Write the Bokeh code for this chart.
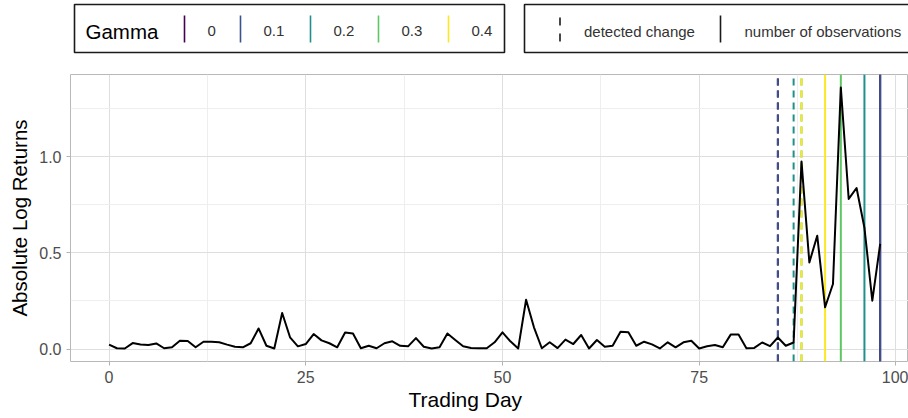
from bokeh.plotting import figure
from bokeh.models import Range1d, FixedTicker, NumeralTickFormatter, Title
from bokeh.layouts import column
from bokeh.embed import file_html
from bokeh.resources import INLINE
from bokeh.core.properties import value

# ---- data -------------------------------------------------------------
days = list(range(99))
abs_log_returns = [
    0.023, 0.004, 0.003, 0.031, 0.023, 0.021, 0.029, 0.004, 0.009, 0.043,
    0.042, 0.009, 0.038, 0.038, 0.035, 0.023, 0.012, 0.009, 0.030, 0.107,
    0.017, 0.003, 0.187, 0.061, 0.014, 0.026, 0.078, 0.045, 0.030, 0.009,
    0.086, 0.081, 0.004, 0.017, 0.004, 0.030, 0.040, 0.017, 0.014, 0.057,
    0.012, 0.003, 0.009, 0.081, 0.047, 0.014, 0.005, 0.004, 0.004, 0.035,
    0.087, 0.040, 0.003, 0.256, 0.113, 0.004, 0.035, 0.005, 0.049, 0.026,
    0.073, 0.003, 0.047, 0.012, 0.017, 0.090, 0.087, 0.017, 0.038, 0.024,
    0.003, 0.035, 0.009, 0.035, 0.043, 0.003, 0.014, 0.021, 0.009, 0.075,
    0.075, 0.004, 0.006, 0.034, 0.015, 0.060, 0.017, 0.034, 0.975, 0.450,
    0.589, 0.217, 0.338, 1.359, 0.780, 0.837, 0.630, 0.251, 0.546,
]
gamma_labels = ["0", "0.1", "0.2", "0.3", "0.4"]
gamma_colors = ["#440154", "#3B528B", "#21908C", "#5DC863", "#FDE725"]
detected_change = [85, 85, 87, 88, 88]
n_observations = [98, 98, 96, 93, 91]
x_ticks = [0, 25, 50, 75, 100]
x_minor_ticks = [12.5, 37.5, 62.5, 87.5]
y_ticks = [0.0, 0.5, 1.0]
y_minor_ticks = [0.25, 0.75, 1.25]
line_type_labels = ["detected change", "number of observations"]

FONT = "Liberation Sans"
LEFT = 70          # width of the left margin (y axis)
WIDTH = 908

# ---- ranges (5% padding around the data) ------------------------------
y_min, y_max = min(abs_log_returns), max(abs_log_returns)
y_pad = 0.05 * (y_max - y_min)
y_lo, y_hi = y_min - y_pad, y_max + y_pad
x_lo = -0.05 * (max(days) - min(days))
x_hi = 101.6

# ---- main panel -------------------------------------------------------
p = figure(
    width=WIDTH, height=362,
    x_range=Range1d(x_lo, x_hi), y_range=Range1d(y_lo, y_hi),
    min_border_left=LEFT, min_border_right=0, min_border_top=18, min_border_bottom=57,
    toolbar_location=None, output_backend="svg",
)
p.background_fill_color = "white"
p.border_fill_color = "white"
p.outline_line_color = "#B8B8B8"
p.outline_line_width = 1

p.xaxis.ticker = FixedTicker(ticks=x_ticks, minor_ticks=x_minor_ticks)
p.yaxis.ticker = FixedTicker(ticks=y_ticks, minor_ticks=y_minor_ticks)
p.yaxis.formatter = NumeralTickFormatter(format="0.0")

for grid in (p.xgrid, p.ygrid):
    grid.grid_line_color = "#DEDEDE"
    grid.grid_line_width = 1
    grid.minor_grid_line_color = "#EEEEEE"
    grid.minor_grid_line_width = 1

for ax in (p.xaxis, p.yaxis):
    ax.axis_line_color = None
    ax.major_tick_line_color = "#B3B3B3"
    ax.major_tick_out = 4
    ax.major_tick_in = 0
    ax.minor_tick_line_color = None
    ax.major_label_text_font = FONT
    ax.major_label_text_font_size = "16px"
    ax.major_label_text_color = "#4D4D4D"
    ax.axis_label_text_font = FONT
    ax.axis_label_text_font_size = "20.5px"
    ax.axis_label_text_font_style = "normal"
    ax.axis_label_text_color = "black"

p.yaxis.axis_label = "Absolute Log Returns"
p.xaxis.major_label_standoff = 5
p.yaxis.major_label_standoff = 5
p.yaxis.axis_label_standoff = 5

# x axis title, set left of the panel centre
p.add_layout(Title(text="Trading Day", align="left", offset=338, standoff=0,
                   text_font=FONT, text_font_size="21px", text_font_style="normal",
                   text_color="black"), "below")

# change-point markers, one per gamma (dashed: detected change, solid: observations)
n = len(gamma_colors)
p.segment(x0=detected_change, y0=[y_lo] * n, x1=detected_change, y1=[y_hi] * n,
          line_color=gamma_colors, line_width=2, line_dash="7 5")
p.segment(x0=n_observations, y0=[y_lo] * n, x1=n_observations, y1=[y_hi] * n,
          line_color=gamma_colors, line_width=2)

p.line(days, abs_log_returns, line_color="black", line_width=2, line_join="round")

# ---- legend strip (x and y in page pixels) ----------------------------
leg = figure(
    width=WIDTH, height=56,
    x_range=Range1d(LEFT, WIDTH), y_range=Range1d(56, 0),
    x_axis_location=None, y_axis_location=None,
    min_border=0, min_border_left=LEFT, min_border_right=0,
    toolbar_location=None, output_backend="svg",
)
leg.grid.visible = False
leg.outline_line_color = None
leg.background_fill_color = "white"
leg.border_fill_color = "white"

box_top, box_bottom, row_mid = 4, 52, 30.5
leg.quad(left=[74, 524], right=[504, 930], top=[box_top] * 2, bottom=[box_bottom] * 2,
         fill_color="white", line_color="#1A1A1A", line_width=1.6)

leg.text(x=[85], y=[row_mid], text=["Gamma"], text_font=value(FONT),
         text_font_size="20.5px", text_color="black", text_baseline="middle")

gamma_key_x = [184, 240, 310, 378, 448]
leg.segment(x0=gamma_key_x, y0=[15] * n, x1=gamma_key_x, y1=[42] * n,
            line_color=gamma_colors, line_width=1.6)
leg.text(x=[kx + 23 for kx in gamma_key_x], y=[row_mid] * n, text=gamma_labels,
         text_font=value(FONT), text_font_size="15px", text_color="#333333",
         text_baseline="middle")

type_key_x = [559.5, 720]
leg.segment(x0=[type_key_x[0]], y0=[17], x1=[type_key_x[0]], y1=[42],
            line_color="#1A1A1A", line_width=1.6, line_dash="8 8")
leg.segment(x0=[type_key_x[1]], y0=[15], x1=[type_key_x[1]], y1=[42],
            line_color="#1A1A1A", line_width=1.6)
leg.text(x=[kx + 24 for kx in type_key_x], y=[row_mid] * 2, text=line_type_labels,
         text_font=value(FONT), text_font_size="15px", text_color="#333333",
         text_baseline="middle")

layout = column(leg, p, spacing=0)
open("out.html", "w").write(file_html(layout, INLINE))
